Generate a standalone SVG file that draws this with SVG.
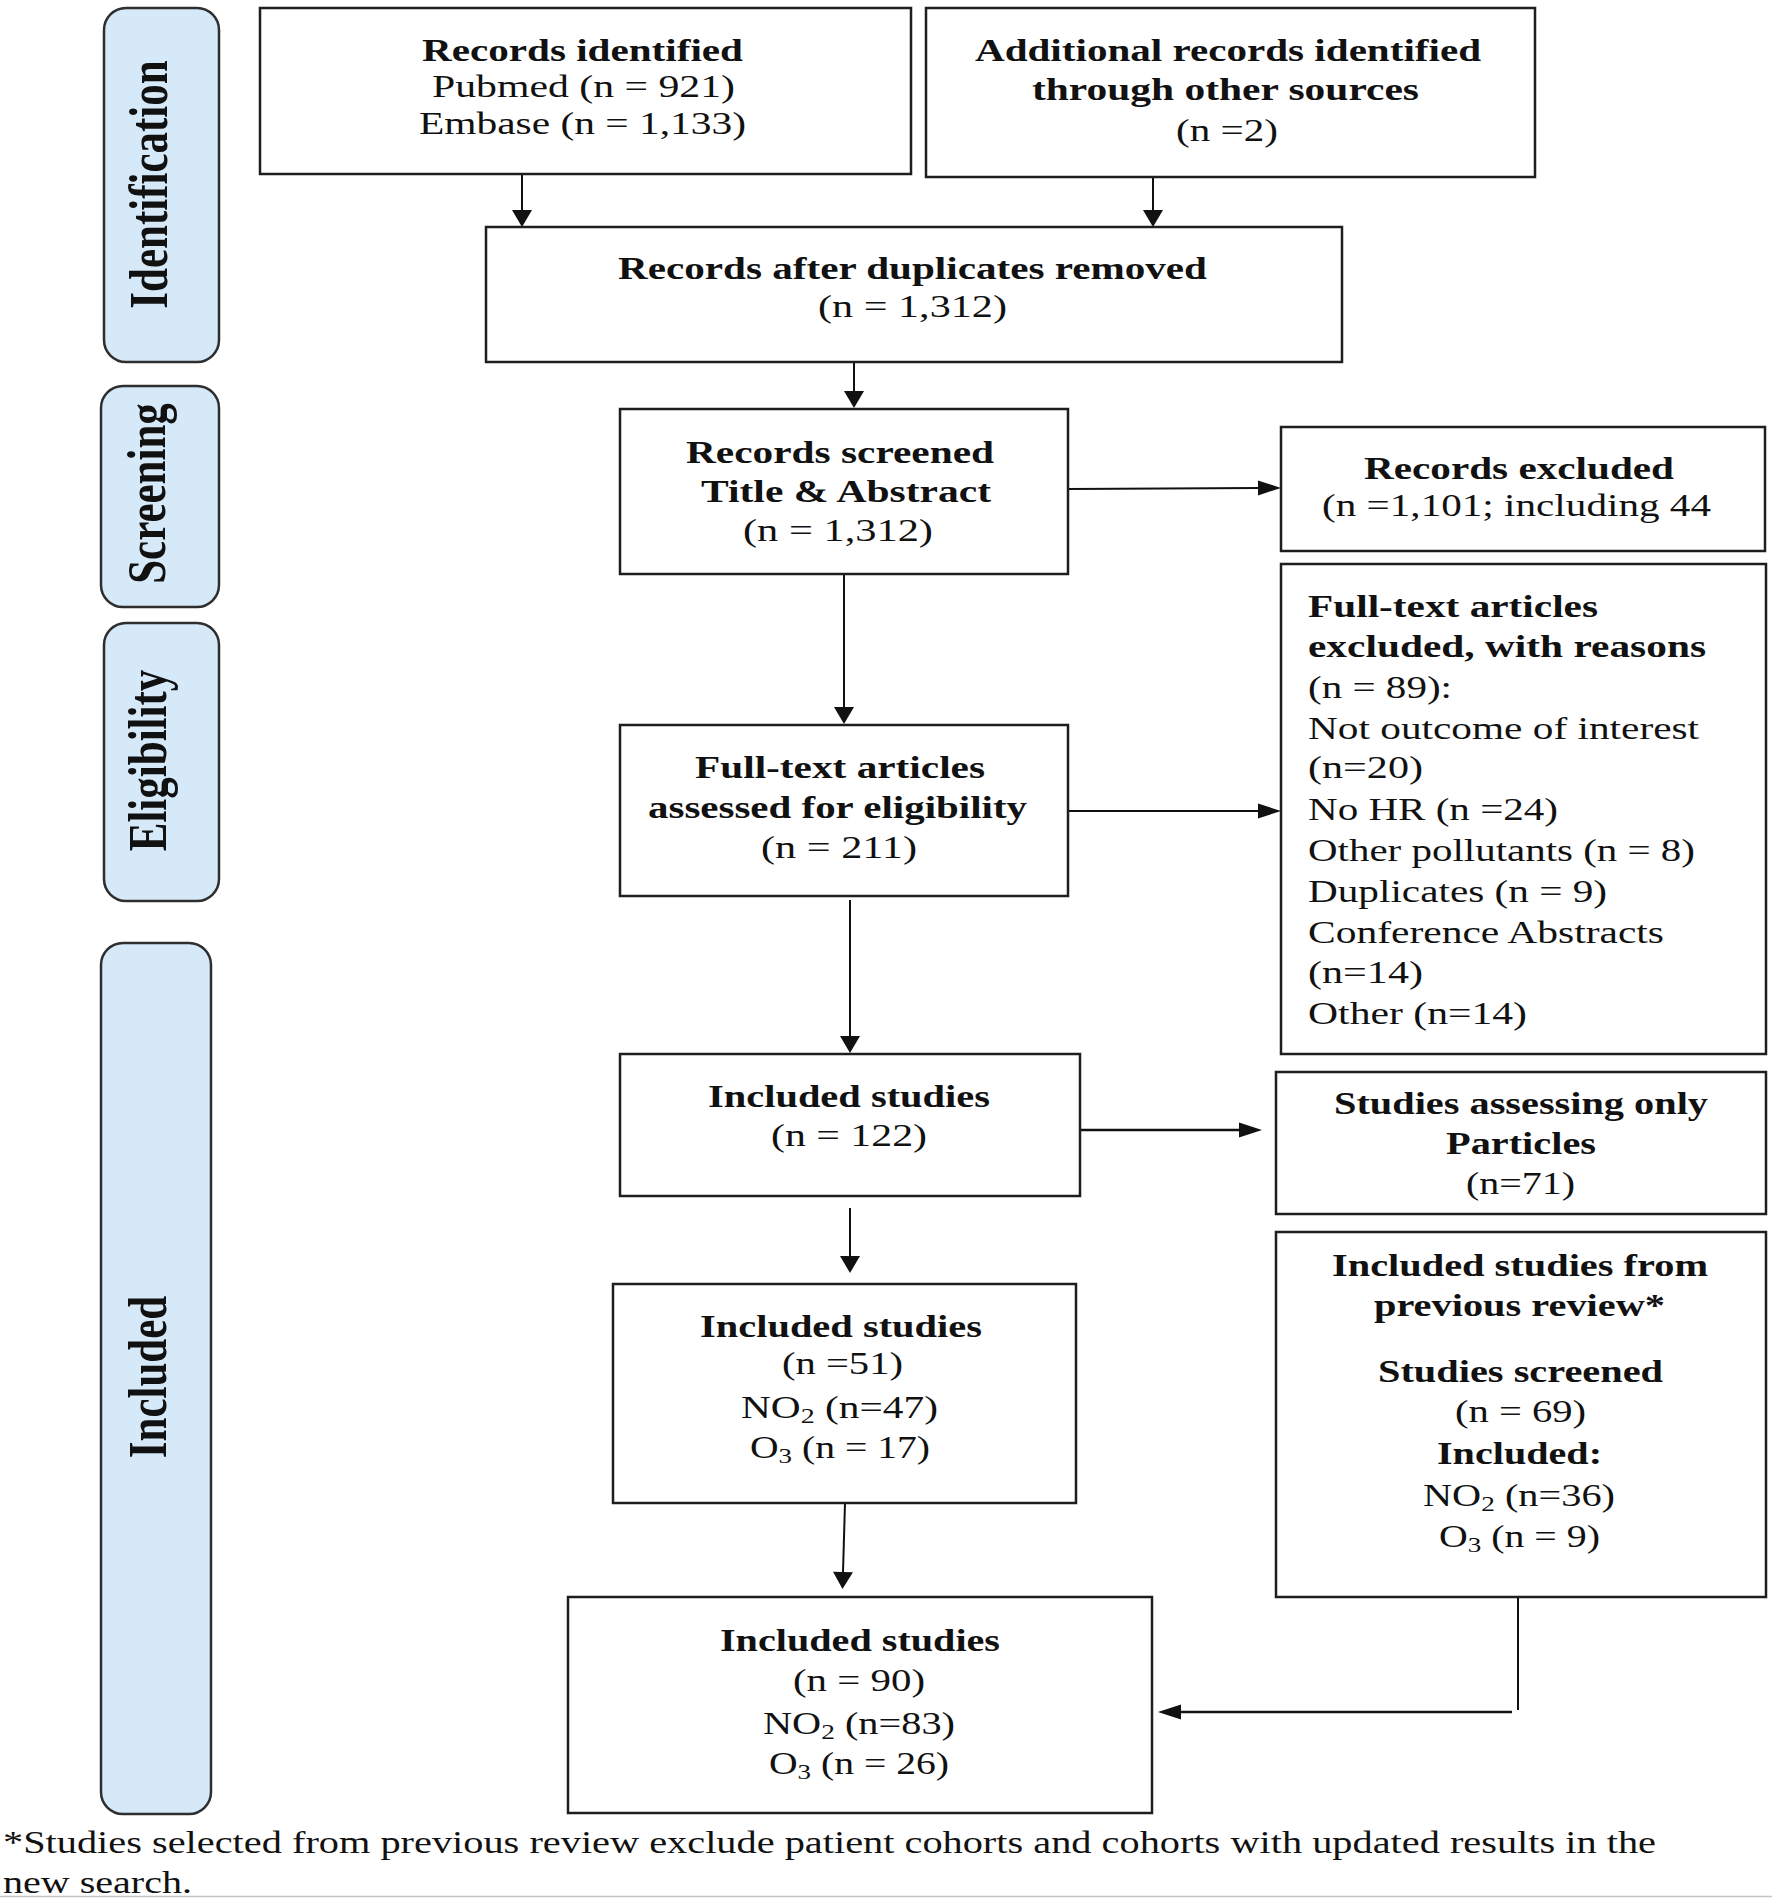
<svg xmlns="http://www.w3.org/2000/svg" width="1772" height="1898" viewBox="0 0 1772 1898">
<style>
.box{fill:#fff;stroke:#1e1e1e;stroke-width:2.5}
.lab{fill:#d6e9f9;stroke:#2e2e2e;stroke-width:2.5}
text{font-family:"Liberation Serif","Times New Roman",serif;font-size:31px;fill:#111}
.b{font-weight:bold}
.side{font-size:43px;font-weight:bold}
.c{fill:none;stroke:#111;stroke-width:2}
.c2{fill:none;stroke:#111;stroke-width:2.6}
</style>
<defs>
<marker id="av" markerUnits="userSpaceOnUse" markerWidth="17" markerHeight="20" refX="0" refY="10" orient="auto" overflow="visible"><path d="M0,0 L17,10 L0,20 z" fill="#111"/></marker>
<marker id="ah" markerUnits="userSpaceOnUse" markerWidth="23" markerHeight="15" refX="0" refY="7.5" orient="auto" overflow="visible"><path d="M0,0 L23,7.5 L0,15 z" fill="#111"/></marker>
</defs>
<rect width="1772" height="1898" fill="#fff"/>

<g id="stage-identification"><rect class="lab" x="104" y="8" width="115" height="354" rx="22"/><text class="side" text-anchor="middle" transform="translate(167,184.5) scale(1.3,1) rotate(-90)">Identification</text></g>
<g id="stage-screening"><rect class="lab" x="101" y="386" width="118" height="221" rx="22"/><text class="side" text-anchor="middle" transform="translate(165,493.5) scale(1.3,1) rotate(-90)">Screening</text></g>
<g id="stage-eligibility"><rect class="lab" x="104" y="623" width="115" height="278" rx="22"/><text class="side" text-anchor="middle" transform="translate(166,760.5) scale(1.3,1) rotate(-90)">Eligibility</text></g>
<g id="stage-included"><rect class="lab" x="101" y="943" width="110" height="871" rx="22"/><text class="side" text-anchor="middle" transform="translate(166,1377) scale(1.3,1) rotate(-90)">Included</text></g>

<g id="connectors">
<path class="c" d="M522,174 V210" marker-end="url(#av)"/>
<path class="c" d="M1153,177 V210" marker-end="url(#av)"/>
<path class="c" d="M854,350 V391" marker-end="url(#av)"/>
<path class="c" d="M1069,489 L1258,488" marker-end="url(#ah)"/>
<path class="c" d="M844,574 V707" marker-end="url(#av)"/>
<path class="c" d="M1068,811 H1258" marker-end="url(#ah)"/>
<path class="c" d="M850,900 V1036" marker-end="url(#av)"/>
<path class="c2" d="M1080,1130 H1239" marker-end="url(#ah)"/>
<path class="c" d="M850,1208 V1256" marker-end="url(#av)"/>
<path class="c" d="M845,1503 L843,1572" marker-end="url(#av)"/>
<path class="c" d="M1518,1597 V1710"/>
<path class="c2" d="M1512,1712 H1181" marker-end="url(#ah)"/>
</g>

<g id="records-identified"><rect class="box" x="260" y="8" width="651" height="166"/>
<text class="b" x="422" y="61" textLength="321" lengthAdjust="spacingAndGlyphs">Records identified</text>
<text x="432" y="97" textLength="303" lengthAdjust="spacingAndGlyphs">Pubmed (n = 921)</text>
<text x="419" y="134" textLength="327" lengthAdjust="spacingAndGlyphs">Embase (n = 1,133)</text></g>

<g id="additional-records"><rect class="box" x="926" y="8" width="609" height="169"/>
<text class="b" x="975" y="61" textLength="506" lengthAdjust="spacingAndGlyphs">Additional records identified</text>
<text class="b" x="1032" y="100" textLength="387" lengthAdjust="spacingAndGlyphs">through other sources</text>
<text x="1176" y="141" textLength="102" lengthAdjust="spacingAndGlyphs">(n =2)</text></g>

<g id="after-duplicates"><rect class="box" x="486" y="227" width="856" height="135"/>
<text class="b" x="618" y="279" textLength="589" lengthAdjust="spacingAndGlyphs">Records after duplicates removed</text>
<text x="818" y="317" textLength="189" lengthAdjust="spacingAndGlyphs">(n = 1,312)</text></g>

<g id="records-screened"><rect class="box" x="620" y="409" width="448" height="165"/>
<text class="b" x="686" y="463" textLength="308" lengthAdjust="spacingAndGlyphs">Records screened</text>
<text class="b" x="701" y="502" textLength="290" lengthAdjust="spacingAndGlyphs">Title &amp; Abstract</text>
<text x="743" y="541" textLength="190" lengthAdjust="spacingAndGlyphs">(n = 1,312)</text></g>

<g id="records-excluded"><rect class="box" x="1281" y="427" width="484" height="124"/>
<text class="b" x="1364" y="479" textLength="310" lengthAdjust="spacingAndGlyphs">Records excluded</text>
<text x="1322" y="516" textLength="389" lengthAdjust="spacingAndGlyphs">(n =1,101; including 44</text></g>

<g id="fulltext-excluded"><rect class="box" x="1281" y="564" width="485" height="490"/>
<text class="b" x="1308" y="617" textLength="290" lengthAdjust="spacingAndGlyphs">Full-text articles</text>
<text class="b" x="1308" y="657" textLength="398" lengthAdjust="spacingAndGlyphs">excluded, with reasons</text>
<text x="1308" y="698" textLength="144" lengthAdjust="spacingAndGlyphs">(n = 89):</text>
<text x="1308" y="739" textLength="391" lengthAdjust="spacingAndGlyphs">Not outcome of interest</text>
<text x="1308" y="778" textLength="115" lengthAdjust="spacingAndGlyphs">(n=20)</text>
<text x="1308" y="820" textLength="250" lengthAdjust="spacingAndGlyphs">No HR (n =24)</text>
<text x="1308" y="861" textLength="387" lengthAdjust="spacingAndGlyphs">Other pollutants (n = 8)</text>
<text x="1308" y="902" textLength="299" lengthAdjust="spacingAndGlyphs">Duplicates (n = 9)</text>
<text x="1308" y="943" textLength="356" lengthAdjust="spacingAndGlyphs">Conference Abstracts</text>
<text x="1308" y="983" textLength="115" lengthAdjust="spacingAndGlyphs">(n=14)</text>
<text x="1308" y="1024" textLength="219" lengthAdjust="spacingAndGlyphs">Other (n=14)</text></g>

<g id="fulltext-assessed"><rect class="box" x="620" y="725" width="448" height="171"/>
<text class="b" x="695" y="778" textLength="290" lengthAdjust="spacingAndGlyphs">Full-text articles</text>
<text class="b" x="648" y="818" textLength="379" lengthAdjust="spacingAndGlyphs">assessed for eligibility</text>
<text x="761" y="858" textLength="156" lengthAdjust="spacingAndGlyphs">(n = 211)</text></g>

<g id="included-122"><rect class="box" x="620" y="1054" width="460" height="142"/>
<text class="b" x="708" y="1107" textLength="282" lengthAdjust="spacingAndGlyphs">Included studies</text>
<text x="771" y="1146" textLength="156" lengthAdjust="spacingAndGlyphs">(n = 122)</text></g>

<g id="only-particles"><rect class="box" x="1276" y="1072" width="490" height="142"/>
<text class="b" x="1334" y="1114" textLength="374" lengthAdjust="spacingAndGlyphs">Studies assessing only</text>
<text class="b" x="1446" y="1154" textLength="150" lengthAdjust="spacingAndGlyphs">Particles</text>
<text x="1466" y="1194" textLength="109" lengthAdjust="spacingAndGlyphs">(n=71)</text></g>

<g id="previous-review"><rect class="box" x="1276" y="1232" width="490" height="365"/>
<text class="b" x="1332" y="1276" textLength="376" lengthAdjust="spacingAndGlyphs">Included studies from</text>
<text class="b" x="1374" y="1316" textLength="291" lengthAdjust="spacingAndGlyphs">previous review*</text>
<text class="b" x="1378" y="1382" textLength="285" lengthAdjust="spacingAndGlyphs">Studies screened</text>
<text x="1455" y="1422" textLength="131" lengthAdjust="spacingAndGlyphs">(n = 69)</text>
<text class="b" x="1437" y="1464" textLength="165" lengthAdjust="spacingAndGlyphs">Included:</text>
<text x="1423" y="1506" textLength="192" lengthAdjust="spacingAndGlyphs">NO<tspan font-size="21" dy="5">2</tspan><tspan dy="-5"> (n=36)</tspan></text>
<text x="1439" y="1547" textLength="161" lengthAdjust="spacingAndGlyphs">O<tspan font-size="21" dy="5">3</tspan><tspan dy="-5"> (n = 9)</tspan></text></g>

<g id="included-51"><rect class="box" x="613" y="1284" width="463" height="219"/>
<text class="b" x="700" y="1337" textLength="282" lengthAdjust="spacingAndGlyphs">Included studies</text>
<text x="782" y="1374" textLength="121" lengthAdjust="spacingAndGlyphs">(n =51)</text>
<text x="741" y="1418" textLength="197" lengthAdjust="spacingAndGlyphs">NO<tspan font-size="21" dy="5">2</tspan><tspan dy="-5"> (n=47)</tspan></text>
<text x="750" y="1458" textLength="180" lengthAdjust="spacingAndGlyphs">O<tspan font-size="21" dy="5">3</tspan><tspan dy="-5"> (n = 17)</tspan></text></g>

<g id="included-90"><rect class="box" x="568" y="1597" width="584" height="216"/>
<text class="b" x="720" y="1651" textLength="280" lengthAdjust="spacingAndGlyphs">Included studies</text>
<text x="793" y="1691" textLength="132" lengthAdjust="spacingAndGlyphs">(n = 90)</text>
<text x="763" y="1734" textLength="192" lengthAdjust="spacingAndGlyphs">NO<tspan font-size="21" dy="5">2</tspan><tspan dy="-5"> (n=83)</tspan></text>
<text x="769" y="1774" textLength="180" lengthAdjust="spacingAndGlyphs">O<tspan font-size="21" dy="5">3</tspan><tspan dy="-5"> (n = 26)</tspan></text></g>

<g id="footnote">
<text x="3" y="1853" textLength="1653" lengthAdjust="spacingAndGlyphs">*Studies selected from previous review exclude patient cohorts and cohorts with updated results in the</text>
<text x="3" y="1893" textLength="189" lengthAdjust="spacingAndGlyphs">new search.</text>
<line x1="0" y1="1896.5" x2="1772" y2="1896.5" stroke="#c4c4c4" stroke-width="1.5"/>
</g>
</svg>
